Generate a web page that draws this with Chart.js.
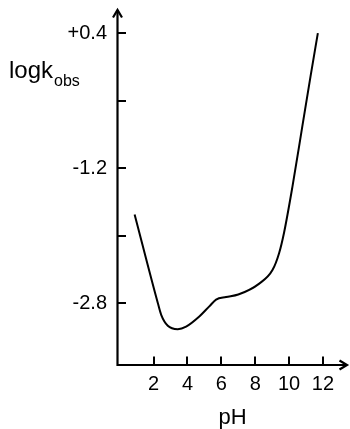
<!DOCTYPE html>
<html>
<head>
<meta charset="utf-8">
<script src="https://cdn.jsdelivr.net/npm/chart.js@4.4.1/dist/chart.umd.min.js"></script>
<style>
  html, body { margin: 0; padding: 0; background: #fff; }
  #wrap { width: 350px; height: 429px; }
</style>
</head>
<body>
<div id="wrap"><canvas id="c" width="350" height="429"></canvas></div>
<script>
// pH profile of the observed rate constant
const pH = [0.88, 2.25, 2.45, 2.84, 3.43, 3.92, 4.7, 5.29, 5.69, 6.28, 7.0, 8.24, 9.02, 9.41, 9.7, 10.2, 10.78, 11.27, 11.7];
const logk = [-1.75, -2.80, -2.94, -3.07, -3.11, -3.08, -2.96, -2.84, -2.76, -2.73, -2.70, -2.57, -2.41, -2.21, -1.97, -1.42, -0.71, -0.11, 0.40];

const xTicks = [2, 4, 6, 8, 10, 12];
const yTicks = [0.4, -0.4, -1.2, -2.0, -2.8];
const yTickLabels = ['+0.4', '', '-1.2', '', '-2.8'];

const FONT = '"Liberation Sans", Arial, sans-serif';

// Axes with inward tick marks and open arrowheads
const axesPlugin = {
  id: 'arrowAxes',
  afterDatasetsDraw(chart) {
    const { ctx, chartArea: a, scales: { x, y } } = chart;
    const ax = a.left + 0.5;
    const ay = a.bottom;
    ctx.save();
    ctx.strokeStyle = '#000';
    ctx.lineWidth = 2.2;
    ctx.lineCap = 'butt';
    ctx.beginPath();
    ctx.moveTo(ax, ay + 1);
    ctx.lineTo(ax, a.top + 1);
    ctx.moveTo(ax - 1, ay);
    ctx.lineTo(a.right - 1, ay);
    ctx.stroke();

    // tick marks
    ctx.lineWidth = 2;
    ctx.beginPath();
    yTicks.forEach(v => {
      const py = Math.round(y.getPixelForValue(v));
      ctx.moveTo(ax, py);
      ctx.lineTo(ax + 8.5, py);
    });
    xTicks.forEach(v => {
      const px = Math.round(x.getPixelForValue(v));
      ctx.moveTo(px, ay);
      ctx.lineTo(px, ay - 8.5);
    });
    ctx.stroke();

    // arrowheads
    ctx.lineWidth = 2.2;
    ctx.lineJoin = 'miter';
    ctx.beginPath();
    ctx.moveTo(ax - 4.5, a.top + 8.5);
    ctx.lineTo(ax, a.top + 1);
    ctx.lineTo(ax + 4.5, a.top + 8.5);
    ctx.moveTo(a.right - 8.5, ay - 4.5);
    ctx.lineTo(a.right - 1, ay);
    ctx.lineTo(a.right - 8.5, ay + 4.5);
    ctx.stroke();

    // y-axis title with subscript
    ctx.fillStyle = '#000';
    ctx.textBaseline = 'alphabetic';
    ctx.textAlign = 'left';
    ctx.font = '24px ' + FONT;
    const main = 'logk';
    ctx.fillText(main, 9, 78);
    const w = ctx.measureText(main).width;
    ctx.font = '16px ' + FONT;
    ctx.fillText('obs', 9 + w + 1, 86);
    ctx.restore();
  }
};

new Chart(document.getElementById('c'), {
  type: 'line',
  data: {
    datasets: [{
      data: pH.map((v, i) => ({ x: v, y: logk[i] })),
      borderColor: '#000',
      borderWidth: 2,
      pointRadius: 0,
      fill: false,
      cubicInterpolationMode: 'monotone'
    }]
  },
  options: {
    responsive: false,
    animation: false,
    devicePixelRatio: 1,
    layout: { padding: { left: 0, top: 9, right: 2, bottom: 0 } },
    plugins: { legend: { display: false }, tooltip: { enabled: false } },
    scales: {
      x: {
        type: 'linear',
        min: -0.16,
        max: 13.48,
        grid: { display: false, drawTicks: false },
        border: { display: false },
        afterBuildTicks: s => { s.ticks = xTicks.map(v => ({ value: v })); },
        afterFit: s => { s.height = 64; s.paddingLeft = 0; s.paddingRight = 0; },
        ticks: {
          autoSkip: false,
          maxRotation: 0,
          padding: 7,
          color: '#000',
          font: { family: FONT, size: 20 },
          callback: v => String(v)
        },
        title: {
          display: true,
          text: 'pH',
          color: '#000',
          padding: 0,
          font: { family: FONT, size: 22, lineHeight: 1 }
        }
      },
      y: {
        type: 'linear',
        min: -3.535,
        max: 0.685,
        grid: { display: false, drawTicks: false },
        border: { display: false },
        afterBuildTicks: s => { s.ticks = yTicks.map(v => ({ value: v })); },
        afterFit: s => { s.width = 117; s.paddingTop = 0; s.paddingBottom = 0; },
        ticks: {
          autoSkip: false,
          padding: 10,
          color: '#000',
          font: { family: FONT, size: 20 },
          callback: (v, i) => yTickLabels[i]
        }
      }
    }
  },
  plugins: [axesPlugin]
});
</script>
</body>
</html>
